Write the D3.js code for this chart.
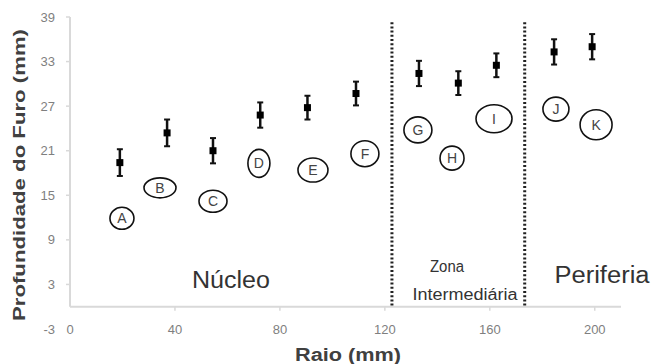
<!DOCTYPE html>
<html>
<head>
<meta charset="utf-8">
<script src="https://cdn.jsdelivr.net/npm/d3@7"></script>
<style>
  body { margin: 0; background: #fff; }
  svg { display: block; font-family: "Liberation Sans", Arial, sans-serif; }
</style>
</head>
<body>
<div id="chart"></div>
<script>
// ----- DATA -----
var letters = ["A", "B", "C", "D", "E", "F", "G", "H", "I", "J", "K"];
var raio = [19, 37, 54.5, 72.5, 90.5, 109, 133, 148, 162.5, 184.5, 199];
var profundidade = [19.4, 23.4, 21.0, 25.8, 26.8, 28.7, 31.4, 30.1, 32.5, 34.3, 35.0];
var erro = [1.8, 1.8, 1.7, 1.7, 1.6, 1.6, 1.7, 1.6, 1.6, 1.7, 1.7];
// where each letter bubble sits, in chart units
var labelRaio = [19.8, 34.3, 54.5, 72, 92.6, 112.4, 132.6, 145.6, 161.6, 185.2, 200.5];
var labelProf = [11.9, 16.0, 14.2, 19.3, 18.4, 20.6, 23.8, 20.0, 25.3, 26.6, 24.5];
var yTicks = [-3, 3, 9, 15, 21, 27, 33, 39];
var xTicks = [0, 40, 80, 120, 160, 200];
var zoneLimits = [122.7, 173.3];

// bubble half sizes (px)
var bubbleR = [[12, 11], [16, 10], [14, 11], [11, 14], [15, 12], [14, 13], [14, 13], [12, 12], [18, 14], [13, 12], [16, 15]];

var width = 667, height = 364;

var svg = d3.select("#chart").append("svg")
    .attr("width", width)
    .attr("height", height);

var x = d3.scaleLinear().domain([0, 210]).range([70, 621]);
var y = d3.scaleLinear().domain([-3, 39]).range([329, 17]);

// ----- AXES -----
svg.append("line")
    .attr("x1", x(0)).attr("x2", x(0))
    .attr("y1", y(39)).attr("y2", y(0))
    .style("stroke", "#d9d9d9").style("stroke-width", 2);
// horizontal axis crosses at y = 0
svg.append("line")
    .attr("x1", x(0)).attr("x2", x(210))
    .attr("y1", y(0)).attr("y2", y(0))
    .style("stroke", "#d9d9d9").style("stroke-width", 2);

svg.selectAll(".ytick").data(yTicks.filter(function(d) { return d > 0; }))
  .enter().append("line")
    .attr("x1", x(0) - 4).attr("x2", x(0))
    .attr("y1", function(d) { return y(d); })
    .attr("y2", function(d) { return y(d); })
    .style("stroke", "#d9d9d9").style("stroke-width", 1.5);

svg.selectAll(".ylab").data(yTicks)
  .enter().append("text")
    .attr("x", 55)
    .attr("y", function(d) { return y(d) + 4.5; })
    .attr("text-anchor", "end")
    .style("font-size", "13px")
    .style("fill", "#7f7f7f")
    .text(function(d) { return d; });

svg.selectAll(".xtick").data(xTicks.filter(function(d) { return d > 0; }))
  .enter().append("line")
    .attr("x1", function(d) { return x(d); })
    .attr("x2", function(d) { return x(d); })
    .attr("y1", y(0)).attr("y2", y(0) + 4)
    .style("stroke", "#d9d9d9").style("stroke-width", 1.5);

svg.selectAll(".xlab").data(xTicks)
  .enter().append("text")
    .attr("x", function(d) { return x(d); })
    .attr("y", y(-3) + 5)
    .attr("text-anchor", "middle")
    .style("font-size", "13px")
    .style("fill", "#7f7f7f")
    .text(function(d) { return d; });

// axis titles
svg.append("text")
    .attr("transform", "translate(25,175) rotate(-90)")
    .attr("text-anchor", "middle")
    .attr("textLength", 292)
    .attr("lengthAdjust", "spacingAndGlyphs")
    .style("font-size", "17px")
    .style("font-weight", "bold")
    .style("fill", "#404040")
    .text("Profundidade do Furo (mm)");

svg.append("text")
    .attr("x", 348).attr("y", 361)
    .attr("text-anchor", "middle")
    .attr("textLength", 106)
    .attr("lengthAdjust", "spacingAndGlyphs")
    .style("font-size", "18px")
    .style("font-weight", "bold")
    .style("fill", "#404040")
    .text("Raio (mm)");

// ----- ZONES -----
svg.selectAll(".zone").data(zoneLimits)
  .enter().append("line")
    .attr("x1", function(d) { return x(d); })
    .attr("x2", function(d) { return x(d); })
    .attr("y1", y(38.3)).attr("y2", y(0))
    .style("stroke", "#222")
    .style("stroke-width", 3)
    .style("stroke-dasharray", "2,2.2");

svg.append("text")
    .attr("x", 231).attr("y", 288)
    .attr("text-anchor", "middle")
    .attr("textLength", 78)
    .attr("lengthAdjust", "spacingAndGlyphs")
    .style("font-size", "23px")
    .style("fill", "#333")
    .text("Núcleo");

svg.append("text")
    .attr("x", 447).attr("y", 272)
    .attr("text-anchor", "middle")
    .attr("textLength", 34)
    .attr("lengthAdjust", "spacingAndGlyphs")
    .style("font-size", "16px")
    .style("fill", "#333")
    .text("Zona");

svg.append("text")
    .attr("x", 465).attr("y", 300)
    .attr("text-anchor", "middle")
    .attr("textLength", 105)
    .attr("lengthAdjust", "spacingAndGlyphs")
    .style("font-size", "16px")
    .style("fill", "#333")
    .text("Intermediária");

svg.append("text")
    .attr("x", 602).attr("y", 283)
    .attr("text-anchor", "middle")
    .attr("textLength", 95)
    .attr("lengthAdjust", "spacingAndGlyphs")
    .style("font-size", "23px")
    .style("fill", "#333")
    .text("Periferia");

// ----- POINTS -----
var pts = svg.selectAll(".pt").data(raio)
  .enter().append("g");

pts.append("line")
    .attr("x1", function(d) { return x(d); })
    .attr("x2", function(d) { return x(d); })
    .attr("y1", function(d, i) { return y(profundidade[i] + erro[i]); })
    .attr("y2", function(d, i) { return y(profundidade[i] - erro[i]); })
    .style("stroke", "#111").style("stroke-width", 2.5);

[1, -1].forEach(function(s) {
  pts.append("line")
      .attr("x1", function(d) { return x(d) - 3; })
      .attr("x2", function(d) { return x(d) + 3; })
      .attr("y1", function(d, i) { return y(profundidade[i] + s * erro[i]); })
      .attr("y2", function(d, i) { return y(profundidade[i] + s * erro[i]); })
      .style("stroke", "#111").style("stroke-width", 2);
});

pts.append("rect")
    .attr("x", function(d) { return x(d) - 3.5; })
    .attr("y", function(d, i) { return y(profundidade[i]) - 3.5; })
    .attr("width", 7).attr("height", 7)
    .style("fill", "#000");

// ----- LETTER BUBBLES -----
var bub = svg.selectAll(".bub").data(letters)
  .enter().append("g")
    .attr("transform", function(d, i) {
      return "translate(" + x(labelRaio[i]) + "," + y(labelProf[i]) + ")";
    });

bub.append("ellipse")
    .attr("rx", function(d, i) { return bubbleR[i][0]; })
    .attr("ry", function(d, i) { return bubbleR[i][1]; })
    .style("fill", "none")
    .style("stroke", "#111")
    .style("stroke-width", 1.6);

bub.append("text")
    .attr("y", 5)
    .attr("text-anchor", "middle")
    .style("font-size", "14px")
    .style("fill", "#444")
    .text(function(d) { return d; });
</script>
</body>
</html>
